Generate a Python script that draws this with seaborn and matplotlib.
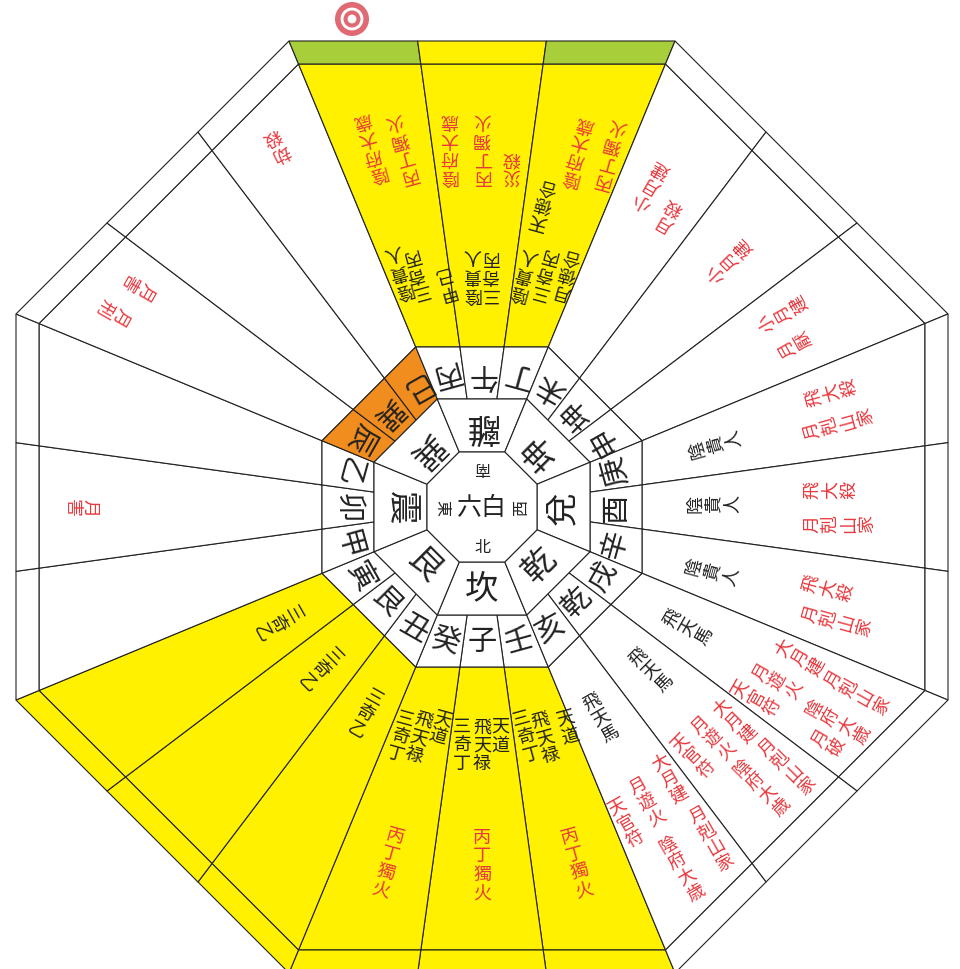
import numpy as np
import matplotlib
matplotlib.use("Agg")
import matplotlib.pyplot as plt
from matplotlib.patches import Polygon
import seaborn as sns

# ---------------- data ----------------
# 24 mountains, clockwise on screen starting at the bottom side (north is down)
mountains = ["壬", "子", "癸", "丑", "艮", "寅", "甲", "卯", "乙", "辰", "巽", "巳",
             "丙", "午", "丁", "未", "坤", "申", "庚", "酉", "辛", "戌", "乾", "亥"]
# trigram of each side (side normals 0,45,...,315 degrees clockwise from bottom)
trigrams = ["坎", "艮", "震", "巽", "離", "坤", "兌", "乾"]
center_star = "六白"
center_dirs = ["北", "東", "南", "西"]

# fill keys per mountain
sector_fill = ["Y", "Y", "Y", "Y", "Y", "Y", "W", "W", "W", "W", "W", "W",
               "Y", "Y", "Y", "W", "W", "W", "W", "W", "W", "W", "W", "W"]
band_fill = ["Y", "Y", "Y", "Y", "Y", "Y", "W", "W", "W", "W", "W", "W",
             "G", "Y", "G", "W", "W", "W", "W", "W", "W", "W", "W", "W"]
ring24_fill = ["W"] * 9 + ["O", "O", "O"] + ["W"] * 12

# black (dark) column texts per mountain
black_cols = [
    ["天道", "飛天禄", "三奇丁"], ["天道", "飛天禄", "三奇丁"], ["天道", "飛天禄", "三奇丁"],
    ["三奇乙"], ["三奇乙"], ["三奇乙"],
    [], [], [],
    [], [], [],
    ["陰貴人", "三奇丙", "甲己"], ["陰貴人", "三奇丙"], ["陰貴人", "三奇丙", "月徳合", "天徳合"],
    [], [], [],
    ["陰貴人"], ["陰貴人"], ["陰貴人"],
    ["飛天馬"], ["飛天馬"], ["飛天馬"],
]
# red column texts per mountain
red_cols = [
    ["丙丁獨火"], ["丙丁獨火"], ["丙丁獨火"],
    [], [], [],
    [], ["月害"], [],
    ["月刑", "月害"], [], ["劫殺"],
    ["陰府大歳", "丙丁獨火"], ["陰府大歳", "丙丁獨火", "災殺"], ["陰府大歳", "丙丁獨火"],
    ["小月建", "月殺"], ["小月建"], ["小月建", "月厭"],
    ["飛大殺", "月剋山家"], ["飛大殺", "月剋山家"], ["飛大殺", "月剋山家"],
    ["大月建", "月遊火", "天官符", "月剋山家", "陰府大歳", "月破"],
    ["大月建", "月遊火", "天官符", "月剋山家", "陰府大歳"],
    ["大月建", "月遊火", "天官符", "月剋山家", "陰府大歳"],
]

# ---------------- layout (positions / styles) ----------------
# (radial start, perpendicular offset) for each column, same order as texts
black_pos = [
    [(225, 24), (220, 0), (214, -18)], [(219, 18), (219, 0), (219, -20)], [(214, 18), (220, 0), (224, -18)],
    [(218, 0)], [(210, 0)], [(216, 0)],
    [], [], [],
    [], [], [],
    [(231, 18), (225, 2), (218, -22)], [(214, 10), (214, -8)], [(217, 22), (224, 2), (230, -20), (291, 22)],
    [], [], [],
    [(223, 0)], [(213, 4)], [(220, 0)],
    [(220, -2)], [(216, 5)], [(223, 0)],
]
red_pos = [
    [(340, -3)], [(330, 0)], [(340, 4)],
    [], [], [],
    [], [(392, 0)], [],
    [(409, 12), (400, -22)], [], [(408, 0)],
    [(350, 12), (340, -18)], [(332, 33), (332, 0), (332, -29)], [(342, 3), (348, -29)],
    [(346, 12), (338, -18)], [(332, 0)], [(340, 21), (345, -12)],
    [(349, 19), (339, -13)], [(330, 18), (330, -16)], [(337, 15), (345, -14)],
    [(332, 27), (324, -5), (314, -30), (390, 25), (388, -10), (408, -33)],
    [(311, 28), (308, 1), (306, -26), (371, 33), (368, 0)],
    [(310, 30), (319, -1), (327, -30), (374, 36), (385, -4)],
]

COLORS = {"Y": "#FFF100", "W": "#FFFFFF", "G": "#A8CF3A", "O": "#F18D1E"}
RED = "#E8383D"
INK = "#222222"
CX, CY = 482.0, 508.0
A_IN, A_TRI, A_24, A_BIG, A_OUT = 55, 108, 160, 443, 466
T = np.tan(np.radians(22.5))
ALPHA = np.degrees(np.arctan(2.0 / 3.0 * T))
TXT = 13
STEP = 18.5

sns.set_theme(style="white")
plt.rcParams["font.family"] = ["Noto Sans CJK JP", "DejaVu Sans"]

fig = plt.figure(figsize=(9.6, 9.7), dpi=100)
ax = fig.add_axes([0, 0, 1, 1])
ax.set_xlim(0, 960)
ax.set_ylim(970, 0)
ax.axis("off")
C = np.array([CX, CY])


def dvec(theta):
    t = np.radians(theta)
    return np.array([-np.sin(t), np.cos(t)])


def side_pt(phi, a, f):
    return C + a * dvec(phi) + f * a * T * dvec(phi + 90)


def cell(phi, a1, a2, f0, f1):
    return [side_pt(phi, a1, f0), side_pt(phi, a1, f1), side_pt(phi, a2, f1), side_pt(phi, a2, f0)]


def draw_poly(pts, fc):
    ax.add_patch(Polygon(np.array(pts), closed=True, facecolor=fc, edgecolor=INK,
                         linewidth=0.8, joinstyle="miter"))


fr = [-1.0, -1.0 / 3.0, 1.0 / 3.0, 1.0]
for i, m in enumerate(mountains):
    k, j = divmod(i, 3)
    phi = 45 * k
    draw_poly(cell(phi, A_24, A_BIG, fr[j], fr[j + 1]), COLORS[sector_fill[i]])
    draw_poly(cell(phi, A_BIG, A_OUT, fr[j], fr[j + 1]), COLORS[band_fill[i]])
    draw_poly(cell(phi, A_TRI, A_24, fr[j], fr[j + 1]), COLORS[ring24_fill[i]])

for k, tg in enumerate(trigrams):
    draw_poly(cell(45 * k, A_IN, A_TRI, -1, 1), "#FFFFFF")
draw_poly([side_pt(45 * k, A_IN, -1) for k in range(8)], "#FFFFFF")


def put(ch, pos, theta, size, color):
    ax.text(pos[0], pos[1], ch, rotation=-theta, rotation_mode="anchor",
            ha="center", va="center", fontsize=size, color=color, zorder=5)


def column(text, theta, r0, p, size, color, step=STEP):
    d = dvec(theta)
    rv = dvec(theta - 90)
    for n, ch in enumerate(text):
        put(ch, C + (r0 + n * step) * d + p * rv, theta, size, color)


for i, m in enumerate(mountains):
    k, j = divmod(i, 3)
    theta = 45 * k + (j - 1) * ALPHA
    rmid = (A_TRI + A_24) / 2.0 / np.cos(np.radians(theta - 45 * k))
    put(m, C + rmid * dvec(theta), theta, 21, INK)
    for txt, (r0, p) in zip(black_cols[i], black_pos[i]):
        column(txt, theta, r0, p, TXT, INK)
    for txt, (r0, p) in zip(red_cols[i], red_pos[i]):
        column(txt, theta, r0, p, TXT, RED)

for k, tg in enumerate(trigrams):
    put(tg, C + 81 * dvec(45 * k), 45 * k, 24, INK)

ax.text(CX, CY, center_star, ha="center", va="center", fontsize=18, color=INK, zorder=5)
for n, dch in enumerate(center_dirs):
    put(dch, C + 40 * dvec(90 * n), 90 * n, 11.5, INK)

# double-circle marker over the 丙 direction
mark_x, mark_y = [352], [20]
for s, col in [(600, "#E06A74"), (270, "#FFFFFF"), (150, "#E06A74"), (40, "#FFFFFF")]:
    sns.scatterplot(x=mark_x, y=mark_y, s=s, color=col, edgecolor="none", ax=ax,
                    legend=False, zorder=6)
ax.set_xlim(0, 960)
ax.set_ylim(970, 0)
ax.axis("off")

fig.savefig("out.png", dpi=100)
